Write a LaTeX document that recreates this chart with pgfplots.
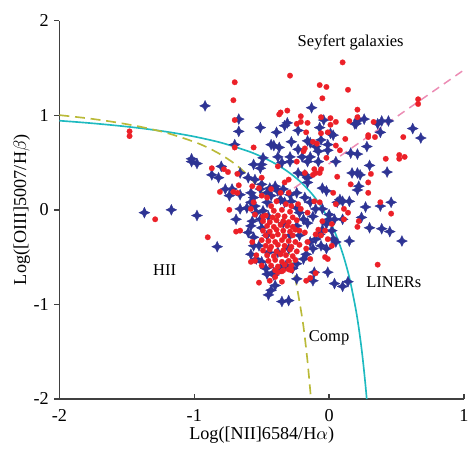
\documentclass[border=0pt]{standalone}
\usepackage{pgfplots}
\pgfplotsset{compat=1.18}
\usepackage{fontspec}
\setmainfont{Liberation Serif}
\definecolor{dotred}{RGB}{236,32,40}
\definecolor{starblue}{RGB}{46,52,148}
\definecolor{kewcyan}{RGB}{30,186,192}
\definecolor{kauolive}{RGB}{186,186,56}
\definecolor{seypink}{RGB}{236,140,180}
\definecolor{axgray}{RGB}{64,64,64}
\pgfdeclareplotmark{fourstar}{%
 \pgfpathmoveto{\pgfqpoint{0pt}{\pgfplotmarksize}}%
 \pgfpathlineto{\pgfqpoint{0.32\pgfplotmarksize}{0.32\pgfplotmarksize}}%
 \pgfpathlineto{\pgfqpoint{\pgfplotmarksize}{0pt}}%
 \pgfpathlineto{\pgfqpoint{0.32\pgfplotmarksize}{-0.32\pgfplotmarksize}}%
 \pgfpathlineto{\pgfqpoint{0pt}{-\pgfplotmarksize}}%
 \pgfpathlineto{\pgfqpoint{-0.32\pgfplotmarksize}{-0.32\pgfplotmarksize}}%
 \pgfpathlineto{\pgfqpoint{-\pgfplotmarksize}{0pt}}%
 \pgfpathlineto{\pgfqpoint{-0.32\pgfplotmarksize}{0.32\pgfplotmarksize}}%
 \pgfpathclose
 \pgfusepathqfillstroke}
\begin{document}
\begin{tikzpicture}
\begin{axis}[
  scale only axis, width=245pt, height=229pt,
  xmin=-2, xmax=1, ymin=-2, ymax=2,
  axis lines=left, axis line style={-, axgray, line width=0.9pt},
  xtick={-2,-1,0,1}, ytick={-2,-1,0,1,2},
  tick align=outside, major tick length=3pt,
  tick style={axgray, line width=0.8pt},
  x tick style={yshift=3pt},
  /pgf/number format/assume math mode=true,
  ticklabel style={font=\fontsize{11}{13}\selectfont},
  xlabel={Log([NII]6584/H$\alpha$)},
  ylabel={Log([OIII]5007/H$\beta$)},
  label style={font=\fontsize{11}{13}\selectfont},
  xlabel style={at={(axis description cs:0.5,-0.097)}, anchor=center},
  ylabel style={at={(axis description cs:-0.093,0.5)}, anchor=center},
  clip=false,
]
% Kewley 2001 line
\addplot[kewcyan, line width=1pt, smooth] coordinates {
(-2.0,0.943) (-1.8,0.921) (-1.6,0.895) (-1.4,0.864) (-1.2,0.825) (-1.0,0.775)
(-0.8,0.710) (-0.6,0.620) (-0.5,0.561) (-0.4,0.489) (-0.3,0.398) (-0.2,0.280)
(-0.1,0.120) (0.0,-0.108) (0.05,-0.262) (0.1,-0.459) (0.15,-0.716) (0.2,-1.069)
(0.23,-1.352) (0.25,-1.583) (0.27,-1.86) (0.2788,-2.0)};
% Kauffmann 2003 line
\addplot[kauolive, line width=1pt, dash pattern=on 6pt off 3.5pt, smooth] coordinates {
(-2.0,1.002) (-1.8,0.970) (-1.6,0.930) (-1.4,0.879) (-1.2,0.812) (-1.0,0.719)
(-0.9,0.658) (-0.8,0.582) (-0.7,0.487) (-0.6,0.362) (-0.5,0.191) (-0.45,0.080)
(-0.4,-0.056) (-0.35,-0.225) (-0.3,-0.443) (-0.25,-0.733) (-0.2,-1.14)
(-0.18,-1.352) (-0.16,-1.605) (-0.14,-1.911) (-0.135,-2.0)};
% Seyfert/LINER line
\addplot[seypink, line width=0.9pt, dash pattern=on 5pt off 3.5pt] coordinates {(-0.26,0.23) (1.0,1.48)};
% blue stars
\addplot[only marks, mark=fourstar, mark size=3.3pt, mark options={fill=starblue, draw=starblue, line width=0.2pt}] coordinates {
(-0.92,1.10) (-0.67,0.96) (-0.67,0.83) (-0.70,0.69) (-1.02,0.54)
(-0.13,1.08) (-0.04,0.95) (0.19,0.91) (-0.31,0.92) (-0.33,0.89) (-0.51,0.87) (-0.07,0.87)
(-0.23,0.84) (-0.39,0.82) (0.01,0.81) (0.03,0.79) (-0.28,0.72) (-0.06,0.74) (-0.16,0.73)
(-0.14,0.71) (-0.10,0.67) (-0.43,0.69) (-0.41,0.68) (-0.37,0.66) (-0.01,0.69) (-0.01,0.63)
(-0.23,0.64) (-0.08,0.62) (-0.38,0.56) (-0.29,0.56) (-0.20,0.56) (-0.14,0.56) (-0.49,0.55) (0.16,0.60)
(0.26,0.96) (0.22,0.95) (0.20,0.91) (0.36,0.91) (0.39,0.94) (0.44,0.94) (0.38,0.82)
(0.62,0.86) (0.68,0.76) (0.28,0.67) (0.21,0.59)
(-1.02,0.51) (-0.98,0.49) (-0.80,0.46) (-0.87,0.37) (-0.82,0.34) (-0.66,0.39) (-0.77,0.22)
(-0.72,0.22) (-0.74,0.15) (-0.66,0.16) (-1.37,-0.03) (-1.17,0.00) (-0.98,-0.06) (-0.66,0.01)
(-0.69,-0.10) (-0.83,-0.39)
(0.30,0.47) (0.21,0.39) (0.23,0.37) (0.43,0.40) (0.22,0.25) (0.21,0.21) (0.38,0.04)
(0.46,0.08) (0.27,0.03) (0.24,-0.08) (0.30,-0.19) (0.39,-0.20) (0.45,-0.23) (0.54,-0.33)
(0.15,0.09) (0.15,-0.33) (0.17,0.39)
(-0.56,0.48) (-0.50,0.48) (-0.51,0.44) (-0.35,0.50) (-0.29,0.51) (-0.16,0.51) (-0.08,0.51)
(0.05,0.51) (-0.23,0.39) (-0.18,0.37) (-0.16,0.34) (-0.16,0.29) (-0.05,0.23) (-0.02,0.20)
(0.08,0.11) (0.10,0.09) (-0.60,0.34) (-0.55,0.32) (-0.50,0.27) (-0.51,0.22) (-0.46,0.18)
(-0.44,0.23) (-0.40,0.25) (-0.38,0.20) (-0.34,0.22) (-0.29,0.16) (-0.24,0.18) (-0.18,0.13)
(-0.14,0.08) (-0.58,0.18) (-0.56,0.13) (-0.58,0.08) (-0.61,0.02) (-0.55,0.04) (-0.54,-0.03)
(-0.49,-0.01) (-0.51,-0.10) (-0.57,-0.12) (-0.58,-0.17) (-0.60,-0.24) (-0.56,-0.29)
(-0.56,-0.38) (-0.58,-0.47) (-0.54,-0.52) (-0.50,-0.55) (-0.47,-0.62) (-0.41,-0.66)
(-0.36,-0.62) (-0.32,-0.59) (-0.27,-0.62) (-0.24,-0.57) (-0.19,-0.52) (-0.17,-0.47)
(-0.12,-0.41) (-0.14,-0.34) (-0.10,-0.31) (-0.07,-0.26) (-0.05,-0.21) (-0.02,-0.15)
(0.00,-0.10) (0.02,-0.22) (0.03,-0.31) (0.05,-0.34) (-0.06,-0.38) (-0.02,-0.41)
(-0.22,-0.27) (-0.24,-0.17) (-0.19,-0.10) (-0.22,-0.03) (-0.24,0.02) (-0.28,0.09)
(-0.33,0.08) (-0.36,0.11) (-0.43,0.15) (-0.46,0.08) (-0.45,-0.07) (-0.50,-0.19)
(-0.46,-0.27) (-0.52,-0.38) (-0.34,-0.14) (-0.29,-0.27) (-0.30,-0.41) (-0.38,-0.45)
(-0.45,-0.45) (-0.11,-0.66) (-0.16,-0.14) (-0.10,0.01) (-0.12,-0.07) (-0.05,0.01)
(0.00,-0.05) (0.04,-0.10) (0.06,0.08) (0.10,-0.10)
(-0.46,-0.68) (-0.41,-0.69) (-0.40,-0.80) (-0.43,-0.85) (-0.45,-0.90) (-0.35,-0.97)
(-0.30,-0.96) (-0.24,-0.73) (-0.12,-0.75) (-0.01,-0.66) (0.04,-0.78) (0.10,-0.81) (0.14,-0.76)
};
% red dots
\addplot[only marks, mark=*, mark size=1.7pt, mark options={fill=dotred, draw=dotred, line width=0.1pt}] coordinates {
(-0.70,1.35) (-0.71,1.16) (-0.70,0.95) (-0.70,0.66) (-1.48,0.83) (-1.48,0.78)
(0.10,1.56) (-0.29,1.42) (-0.07,1.32) (-0.02,1.30) (0.14,1.27) (-0.05,1.18) (-0.31,1.05)
(-0.36,1.03) (-0.37,1.01) (-0.21,0.99) (-0.06,0.98) (0.01,0.97) (0.15,0.94) (0.05,0.93)
(-0.24,0.91) (-0.21,0.93) (-0.16,0.92) (0.01,0.90) (-0.17,0.82) (-0.01,0.82) (-0.06,0.81)
(0.12,0.75) (-0.12,0.72) (-0.09,0.70) (0.05,0.68) (-0.56,0.66) (-0.18,0.65) (-0.19,0.62)
(0.08,0.63) (-0.02,0.55)
(0.66,1.17) (0.66,1.12) (0.21,1.06) (0.21,0.98) (0.33,0.93) (0.29,0.79) (0.29,0.77)
(0.34,0.77) (0.55,0.77) (0.42,0.54) (0.52,0.58) (0.56,0.56) (0.52,0.54)
(-0.87,0.44) (-0.78,0.43) (-0.75,0.40) (-0.68,0.38) (-0.67,0.26) (-0.81,0.19) (-0.71,0.19)
(-0.68,0.18) (-1.29,-0.10) (-0.74,0.00) (-0.69,-0.23) (-0.66,-0.22) (-0.90,-0.29)
(0.31,0.38) (0.29,0.29) (0.29,0.18) (0.38,0.08) (0.46,-0.04) (0.22,-0.12) (0.21,-0.18) (0.36,-0.58)
(0.16,0.27) (0.14,-0.03) (0.06,0.35)
(-0.38,0.46) (-0.24,0.51) (-0.18,0.39) (-0.12,0.37) (-0.10,0.39) (-0.07,0.39) (-0.11,0.43)
(-0.06,0.43) (-0.30,0.32) (-0.33,0.29) (-0.50,0.34) (-0.57,0.25) (-0.52,0.23) (-0.43,0.22)
(-0.36,0.18) (-0.50,0.15) (-0.46,0.13) (-0.30,0.18) (-0.11,0.09) (-0.07,0.08) (0.03,0.18)
(0.05,0.06) (0.11,0.01) (0.11,-0.10) (-0.56,0.08) (-0.58,0.01) (-0.55,-0.05) (-0.49,-0.07)
(-0.43,0.04) (-0.39,0.09) (-0.32,0.06) (-0.28,0.04) (-0.23,0.06) (-0.21,0.01) (-0.16,-0.03)
(-0.05,-0.12) (0.02,-0.15) (-0.03,-0.22) (-0.08,-0.21) (-0.10,-0.26) (-0.06,-0.27)
(-0.01,-0.31) (0.02,-0.38) (-0.03,-0.50) (-0.01,-0.52) (-0.14,-0.52) (-0.17,-0.41)
(-0.16,-0.34) (-0.18,-0.24) (-0.22,-0.22) (-0.57,-0.34) (-0.55,-0.54) (-0.58,-0.55)
(-0.50,-0.59) (-0.54,-0.48)
(-0.41,-0.01) (-0.35,0.00) (-0.29,-0.02)
(-0.47,-0.06) (-0.42,-0.08) (-0.38,-0.06) (-0.33,-0.07) (-0.27,-0.08)
(-0.49,-0.12) (-0.44,-0.13) (-0.39,-0.11) (-0.34,-0.12) (-0.30,-0.13) (-0.24,-0.11)
(-0.46,-0.17) (-0.41,-0.18) (-0.36,-0.16) (-0.31,-0.17) (-0.27,-0.18)
(-0.49,-0.22) (-0.44,-0.23) (-0.39,-0.21) (-0.34,-0.22) (-0.29,-0.23) (-0.25,-0.21)
(-0.47,-0.27) (-0.42,-0.28) (-0.38,-0.26) (-0.33,-0.28) (-0.27,-0.27)
(-0.50,-0.32) (-0.45,-0.33) (-0.40,-0.34) (-0.35,-0.32) (-0.30,-0.33) (-0.25,-0.34)
(-0.47,-0.38) (-0.43,-0.39) (-0.38,-0.37) (-0.33,-0.38) (-0.28,-0.39) (-0.22,-0.37)
(-0.49,-0.43) (-0.44,-0.42) (-0.39,-0.44) (-0.34,-0.43) (-0.29,-0.42) (-0.24,-0.44)
(-0.46,-0.48) (-0.41,-0.49) (-0.36,-0.47) (-0.32,-0.48) (-0.27,-0.49)
(-0.45,-0.54) (-0.40,-0.53) (-0.35,-0.55) (-0.30,-0.54) (-0.25,-0.53)
(-0.43,-0.59) (-0.38,-0.60) (-0.33,-0.58) (-0.28,-0.59)
(-0.40,-0.64) (-0.35,-0.65) (-0.30,-0.63)
(-0.52,-0.77) (-0.44,-0.75) (-0.40,-0.71) (-0.38,-0.66) (-0.34,-0.64) (-0.28,-0.64)
(-0.35,-0.76) (-0.17,-0.75) (-0.14,-0.72) (-0.10,-0.67)
};
\node[font=\fontsize{10}{12}\selectfont] at (axis cs:0.16,1.77) {Seyfert galaxies};
\node[font=\fontsize{10}{12}\selectfont] at (axis cs:-1.22,-0.64) {HII};
\node[font=\fontsize{10}{12}\selectfont] at (axis cs:0.0,-1.35) {Comp};
\node[font=\fontsize{10}{12}\selectfont] at (axis cs:0.48,-0.77) {LINERs};
\end{axis}
\path (current axis.south west) ++(-36pt,-35pt) (current axis.north east) ++(3pt,12.6pt);
\end{tikzpicture}
\end{document}
